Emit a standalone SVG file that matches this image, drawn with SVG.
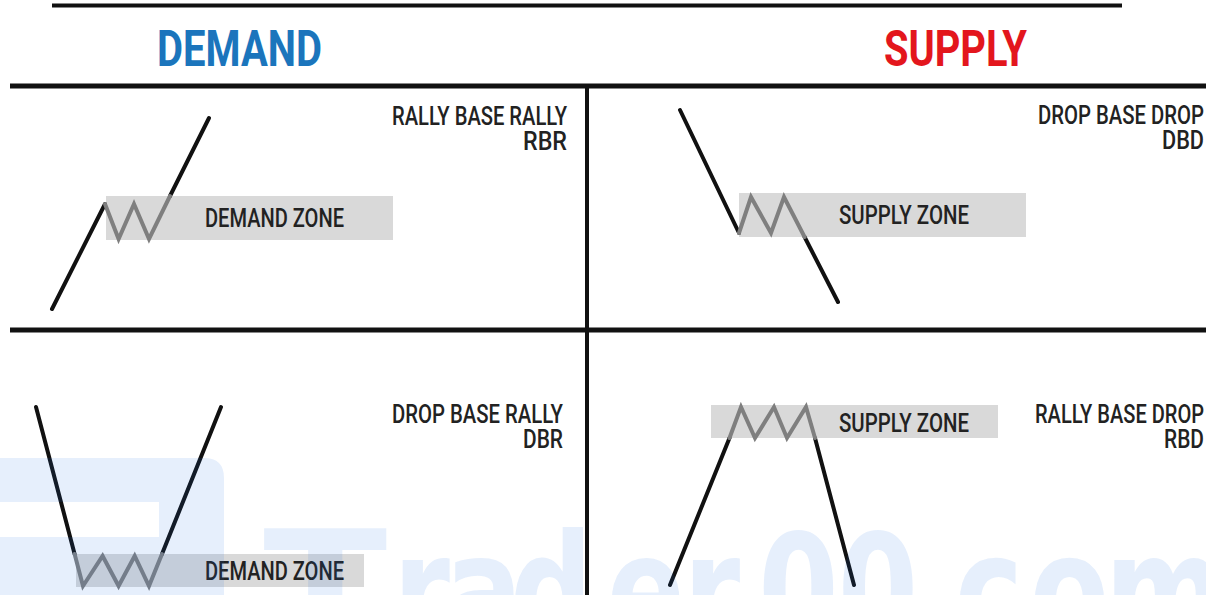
<svg xmlns="http://www.w3.org/2000/svg" width="1206" height="595" viewBox="0 0 1206 595">
<style>
.rule{stroke:#111;fill:none}
.trend{stroke:#111;stroke-width:4;fill:none;stroke-linecap:round;stroke-linejoin:round}
.zig{stroke:#7f7f7f;stroke-width:4;fill:none;stroke-linecap:round;stroke-linejoin:miter}
.zone{fill:#d9d9d9}
.title{font-family:Roboto,"Liberation Sans",sans-serif;font-weight:700;font-size:50px}
.lbl{font-family:Roboto,"Liberation Sans",sans-serif;font-weight:500;font-size:25px;fill:#222}
.wm{font-family:"DejaVu Sans",sans-serif;font-weight:700;font-size:154px}
</style>
<rect width="1206" height="595" fill="#fff"/>
<g id="frame">
<line class="rule" x1="52" y1="5.5" x2="1122" y2="5.5" stroke-width="4"/>
<line class="rule" x1="10" y1="86" x2="1206" y2="86" stroke-width="5"/>
<line class="rule" x1="10" y1="330" x2="1206" y2="330" stroke-width="5"/>
<line class="rule" x1="587" y1="86" x2="587" y2="595" stroke-width="4"/>
</g>
<g id="headers">
<text class="title" x="157" y="66" fill="#1b75bc" textLength="165" lengthAdjust="spacingAndGlyphs">DEMAND</text>
<text class="title" x="884" y="66" fill="#e3161d" textLength="143" lengthAdjust="spacingAndGlyphs">SUPPLY</text>
</g>
<g id="rbr">
<rect class="zone" x="106" y="196" width="287" height="44"/>
<path class="trend" d="M52,309 L105,204 M170,196 L209,118"/>
<path class="zig" d="M105,204 L118.6,239 L134,204 L149,239 L170,196"/>
<text class="lbl" x="205" y="227" textLength="139" lengthAdjust="spacingAndGlyphs">DEMAND ZONE</text>
<text class="lbl" x="392" y="125" textLength="175" lengthAdjust="spacingAndGlyphs">RALLY BASE RALLY</text>
<text class="lbl" x="523" y="150" textLength="44" lengthAdjust="spacingAndGlyphs">RBR</text>
</g>
<g id="dbd">
<rect class="zone" x="739" y="193" width="287" height="44"/>
<path class="trend" d="M680,110 L739,233 M804.6,237 L838,302"/>
<path class="zig" d="M739,233 L751,197 L771,233 L784,197 L804.6,237"/>
<text class="lbl" x="839" y="224" textLength="130" lengthAdjust="spacingAndGlyphs">SUPPLY ZONE</text>
<text class="lbl" x="1038" y="124" textLength="166" lengthAdjust="spacingAndGlyphs">DROP BASE DROP</text>
<text class="lbl" x="1162" y="149" textLength="42" lengthAdjust="spacingAndGlyphs">DBD</text>
</g>
<g id="dbr">
<rect class="zone" x="76" y="554" width="288" height="33"/>
<path class="trend" d="M36,407 L74.6,554 M162,554 L221,407"/>
<path class="zig" d="M74.6,554 L83,586 L102.6,556 L118.6,586 L134.7,556 L149,586 L162,554"/>
<text class="lbl" x="205" y="580" textLength="139" lengthAdjust="spacingAndGlyphs">DEMAND ZONE</text>
<text class="lbl" x="392" y="423" textLength="171" lengthAdjust="spacingAndGlyphs">DROP BASE RALLY</text>
<text class="lbl" x="523" y="448" textLength="40" lengthAdjust="spacingAndGlyphs">DBR</text>
</g>
<g id="rbd">
<rect class="zone" x="711" y="405" width="287" height="33"/>
<path class="trend" d="M670,585 L729.5,438 M815,438 L854,585"/>
<path class="zig" d="M729.5,438 L741,407 L755,438 L774,407 L787,438 L806,407 L815,438"/>
<text class="lbl" x="839" y="432" textLength="130" lengthAdjust="spacingAndGlyphs">SUPPLY ZONE</text>
<text class="lbl" x="1035" y="423" textLength="169" lengthAdjust="spacingAndGlyphs">RALLY BASE DROP</text>
<text class="lbl" x="1164" y="448" textLength="40" lengthAdjust="spacingAndGlyphs">RBD</text>
</g>
<g id="watermark" fill="#1a6ee6" fill-opacity="0.11">
<path fill-rule="evenodd" d="M0,458 H204 Q224,458 224,478 V595 H0 Z M0,502 H159 V537 H0 Z"/>
<text class="wm" transform="scale(1.18,1)" x="223" y="640">T</text>
<text class="wm" transform="scale(0.75,1)" y="644" x="524 593 680 809 911 1011 1117 1227 1273 1373 1473">rader00.com</text>
</g>
</svg>
